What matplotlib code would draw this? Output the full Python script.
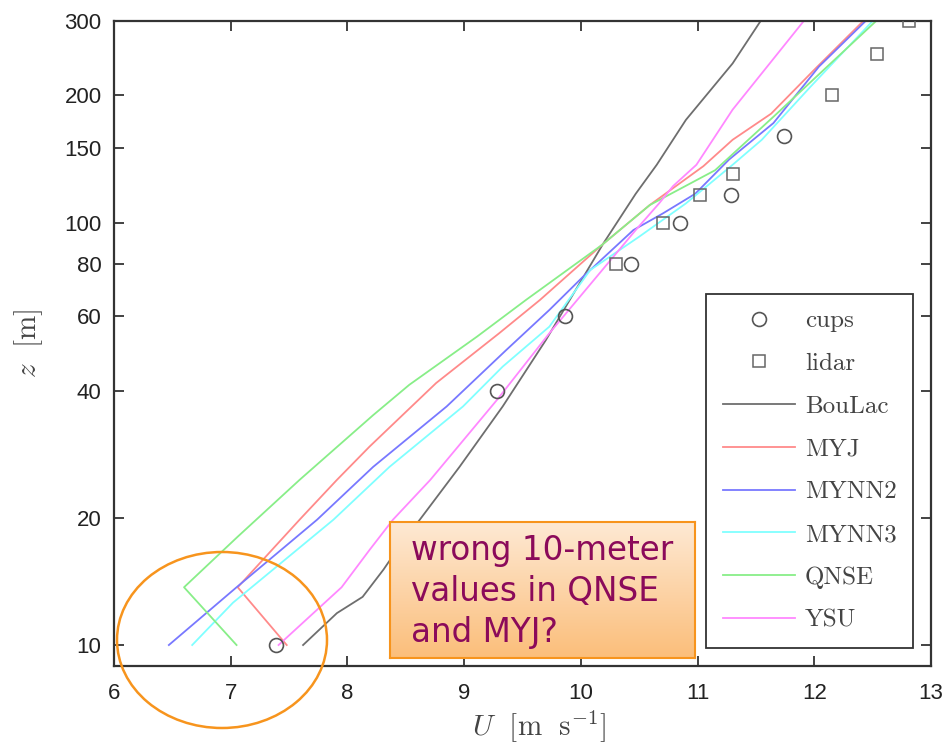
import numpy as np
import matplotlib
matplotlib.use("Agg")
import matplotlib.pyplot as plt
from matplotlib.patches import Ellipse

plt.rcParams["mathtext.fontset"] = "cm"

# ---------------- data ----------------
cups_z = [10, 40, 60, 80, 100, 116, 160]
cups_u = [7.39, 9.28, 9.86, 10.43, 10.85, 11.29, 11.74]

lidar_z = [80, 100, 116, 130, 200, 250, 300]
lidar_u = [10.30, 10.70, 11.02, 11.30, 12.15, 12.54, 12.81]

boulac_z = [10, 11.9, 13.0, 15.1, 17.7, 19.8, 26.4, 36.7, 52.7, 89, 117, 137, 175, 238, 300]
boulac_u = [7.62, 7.91, 8.13, 8.31, 8.48, 8.62, 8.96, 9.33, 9.70, 10.19, 10.47, 10.65, 10.90, 11.30, 11.54]

myj_z = [10, 13.7, 19.8, 24.6, 29.5, 41.7, 54.7, 65.6, 88.5, 110, 136, 157, 181, 233, 300]
myj_u = [7.48, 7.06, 7.59, 7.91, 8.19, 8.76, 9.30, 9.65, 10.18, 10.59, 11.05, 11.30, 11.63, 12.02, 12.42]

mynn2_z = [10, 13.7, 19.8, 26.4, 36.7, 49.9, 62.1, 74.5, 96, 105, 117, 141, 172, 234, 300]
mynn2_u = [6.47, 7.05, 7.74, 8.22, 8.85, 9.36, 9.73, 10.02, 10.45, 10.70, 10.98, 11.27, 11.65, 12.04, 12.44]

mynn3_z = [10, 12.6, 19.8, 26.4, 36.7, 45.6, 56.7, 77.2, 92.6, 111, 137, 157, 210, 300]
mynn3_u = [6.67, 7.02, 7.88, 8.36, 8.99, 9.33, 9.73, 10.08, 10.50, 10.90, 11.30, 11.55, 11.97, 12.50]

qnse_z = [10, 13.7, 18.05, 24.6, 35.0, 41.3, 53.7, 65.6, 88.5, 110, 133, 178, 300]
qnse_u = [7.05, 6.60, 7.06, 7.59, 8.22, 8.53, 9.11, 9.53, 10.18, 10.59, 11.15, 11.65, 12.53]

ysu_z = [10, 13.7, 16.8, 19.8, 24.6, 38.0, 54.7, 96, 111, 122, 137, 185, 300]
ysu_u = [7.41, 7.95, 8.19, 8.39, 8.71, 9.28, 9.73, 10.47, 10.67, 10.79, 10.99, 11.30, 11.91]

model_names = ["BouLac", "MYJ", "MYNN2", "MYNN3", "QNSE", "YSU"]
model_colors = ["#6e6e6e", "#ff8a8a", "#7878ff", "#80ffff", "#88ee88", "#ff88ff"]
model_data = [(boulac_u, boulac_z), (myj_u, myj_z), (mynn2_u, mynn2_z),
              (mynn3_u, mynn3_z), (qnse_u, qnse_z), (ysu_u, ysu_z)]

xticks = [6, 7, 8, 9, 10, 11, 12, 13]
yticks = [10, 20, 40, 60, 80, 100, 150, 200, 300]

annotation = "wrong 10-meter\nvalues in QNSE\nand MYJ?"

# ---------------- figure ----------------
W, H = 947, 750
fig = plt.figure(figsize=(W / 100, H / 100), dpi=100)
ax = fig.add_axes([114 / W, 1 - 666 / H, (931 - 114) / W, (666 - 21) / H])

ax.plot(cups_u, cups_z, linestyle="none", marker="o", markersize=10,
        markerfacecolor="none", markeredgecolor="#555555", markeredgewidth=1.2,
        label="cups", zorder=5)
ax.plot(lidar_u, lidar_z, linestyle="none", marker="s", markersize=8.5,
        markerfacecolor="none", markeredgecolor="#666666", markeredgewidth=1.1,
        label="lidar", zorder=5)
for name, col, (u, z) in zip(model_names, model_colors, model_data):
    ax.plot(u, z, color=col, linewidth=1.3, label=name)

ax.set_yscale("log")
ax.set_xlim(6, 13)
ax.set_ylim(8.92, 300)
ax.set_xticks(xticks)
ax.set_xticklabels([str(t) for t in xticks])
ax.set_yticks(yticks)
ax.set_yticklabels([str(t) for t in yticks])
ax.yaxis.set_minor_locator(matplotlib.ticker.NullLocator())

for lab in ax.get_xticklabels() + ax.get_yticklabels():
    lab.set_fontfamily("Liberation Sans")
    lab.set_fontsize(16)
    lab.set_color("#222222")
ax.tick_params(direction="in", length=7, width=1.2, top=True, right=True,
               colors="#222222")
ax.tick_params(axis="x", pad=12)
ax.tick_params(axis="y", pad=9)
for s in ax.spines.values():
    s.set_linewidth(1.6)
    s.set_color("#333333")

ax.set_xlabel(r"$U\ \ [\mathrm{m\ \ s}^{-1}]$", fontsize=21, color="#444444", labelpad=2)
ax.xaxis.set_label_coords(0.52, -0.065)
ax.set_ylabel(r"$z\ \ [\mathrm{m}]$", fontsize=21, color="#444444", labelpad=14)

leg = ax.legend(loc="lower right", bbox_to_anchor=(0.978, 0.028), borderaxespad=0,
                prop=dict(family="cmr10", size=18), handlelength=2.9,
                handletextpad=0.4, labelspacing=0.81, borderpad=0.65,
                fancybox=False, framealpha=1, edgecolor="#333333")
leg.get_frame().set_linewidth(1.3)
for t in leg.get_texts():
    t.set_color("#444444")

# annotation box with gradient
bx = fig.add_axes([390 / W, 1 - 658 / H, 305 / W, 136 / H])
top = np.array([254, 233, 212]) / 255
bot = np.array([251, 190, 122]) / 255
grad = np.linspace(0, 1, 256)[:, None, None]
img = top[None, None, :] * (1 - grad) + bot[None, None, :] * grad
bx.imshow(img, aspect="auto", extent=[0, 1, 0, 1], origin="upper")
bx.set_xticks([])
bx.set_yticks([])
for s in bx.spines.values():
    s.set_color("#f7941d")
    s.set_linewidth(1.5)
bx.text(0.069, 0.49, annotation, transform=bx.transAxes, ha="left", va="center",
        fontsize=23.5, family="DejaVu Sans", color="#8b0a5a", linespacing=1.3)

ell = Ellipse((222 / W, 1 - 640 / H), 210 / W, 176 / H, transform=fig.transFigure,
              fill=False, edgecolor="#f7941d", linewidth=1.8, zorder=10)
fig.add_artist(ell)

fig.savefig("out.png", dpi=100)
